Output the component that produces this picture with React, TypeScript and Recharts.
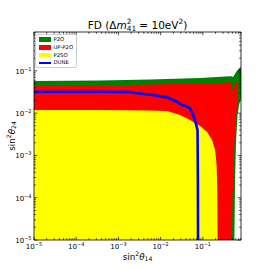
import React from 'react';
import { ComposedChart, Area, Line, XAxis, YAxis, Legend, Label } from 'recharts';

const X_MIN = 1e-5;
const X_MAX = 0.8;
const Y_MIN = 1e-5;
const Y_MAX = 0.83;

const majorTicks = [1e-5, 1e-4, 1e-3, 1e-2, 1e-1];

// P2O excluded region (band between lower and upper edge)
const p2oX = [1e-5, 3.66e-4, 5.61e-3, 0.0859, 0.336, 0.466, 0.52, 0.557, 0.579, 0.612, 0.664, 0.721, 0.8];
const p2oLow = [1e-5, 1e-5, 1e-5, 1e-5, 1e-5, 1e-5, 1e-5, 1e-5, 2.62e-4, 2.31e-3, 9.02e-3, 0.0155, 0.0228];
const p2oHigh = [0.0574, 0.059, 0.0623, 0.0676, 0.0733, 0.0741, 0.0713, 0.0796, 0.086, 0.0938, 0.104, 0.116, 0.123];

// UP-P2O
const upX = [1e-5, 3.66e-4, 5.61e-3, 0.0859, 0.336, 0.466, 0.484, 0.5, 0.52, 0.535, 0.548, 0.579, 0.63, 0.664, 0.682];
const upLow = [1e-5, 1e-5, 1e-5, 1e-5, 1e-5, 1e-5, 1e-5, 8.8e-5, 2.62e-4, 7.78e-4, 1.34e-3, 3.98e-3, 0.0118, 0.0268, 0.0488];
const upHigh = [0.0438, 0.0449, 0.0475, 0.0501, 0.0523, 0.0528, 0.0461, 0.0372, 0.0264, 0.0315, 0.0392, 0.0515, 0.0544, 0.0528, 0.0488];

// P2SO
const p2soX = [1e-5, 3.66e-4, 5.61e-3, 0.0142, 0.0288, 0.0498, 0.0859, 0.126, 0.165, 0.195, 0.211, 0.219, 0.222, 0.223];
const p2soHigh = [0.0118, 0.0118, 0.0116, 0.0112, 0.00902, 0.00687, 0.00495, 0.00357, 0.00231, 0.00134, 5.93e-4, 2.0e-4, 3.9e-5, 1e-5];

// DUNE contour
const duneX = [1e-5, 3.66e-4, 1.88e-3, 2.47e-3, 6.61e-3, 0.0142, 0.0245, 0.0321, 0.04, 0.0498, 0.0586, 0.069, 0.0748, 0.0762, 0.0769];
const duneY = [0.0321, 0.0321, 0.0319, 0.0299, 0.0268, 0.0236, 0.0186, 0.0155, 0.0147, 0.013, 0.00902, 0.00552, 0.00398, 2.62e-4, 1e-5];

const seriesNames = ['P2O', 'UP-P2O', 'P2SO', 'DUNE'];
const seriesColors = ['#008000', '#ff0000', '#ffff00', '#0000ff'];

const FONT = 'DejaVu Sans, sans-serif';

const band = (xs: number[], lo: number[], hi: number[]) => xs.map((x, i) => ({ x, band: [lo[i], hi[i]] }));
const p2oData = band(p2oX, p2oLow, p2oHigh);
const upData = band(upX, upLow, upHigh);
const p2soData = band(p2soX, p2soX.map(() => Y_MIN), p2soHigh);
const duneData = duneX.map((x, i) => ({ x, y: duneY[i] }));

const withMinor = (max: number) =>
  [...majorTicks, ...majorTicks.flatMap((t) => [2, 3, 4, 5, 6, 7, 8, 9].map((k) => +(k * t).toPrecision(3)))]
    .filter((v) => v <= max)
    .sort((a, b) => a - b);
const xTicks = withMinor(X_MAX);
const yTicks = withMinor(Y_MAX);

const isMajor = (v: number) => Math.abs(Math.log10(v) - Math.round(Math.log10(v))) < 1e-6;

const PowLabel = ({ v, x, y, anchor }: any) => (
  <text x={x} y={y} textAnchor={anchor} fontFamily={FONT} fontSize={7} fill="#000">
    <tspan>10</tspan>
    <tspan fontSize={5} dy={-3.2}>{'\u2212' + Math.abs(Math.round(Math.log10(v)))}</tspan>
  </text>
);

const BottomTick = (props: any) => {
  const { x, y, payload } = props;
  const major = isMajor(payload.value);
  return (
    <g>
      <line x1={x} x2={x} y1={y} y2={y - (major ? 3.2 : 1.8)} stroke="#000" strokeWidth={0.7} />
      {major && <PowLabel v={payload.value} x={x} y={y + 9} anchor="middle" />}
    </g>
  );
};

const TopTick = (props: any) => {
  const { x, y, payload } = props;
  const major = isMajor(payload.value);
  return <line x1={x} x2={x} y1={y} y2={y + (major ? 3.2 : 1.8)} stroke="#000" strokeWidth={0.7} />;
};

const LeftTick = (props: any) => {
  const { x, y, payload } = props;
  const major = isMajor(payload.value);
  return (
    <g>
      <line x1={x} x2={x + (major ? 3.2 : 1.8)} y1={y} y2={y} stroke="#000" strokeWidth={0.7} />
      {major && <PowLabel v={payload.value} x={x - 2.5} y={y + 3} anchor="end" />}
    </g>
  );
};

const RightTick = (props: any) => {
  const { x, y, payload } = props;
  const major = isMajor(payload.value);
  return <line x1={x} x2={x - (major ? 3.2 : 1.8)} y1={y} y2={y} stroke="#000" strokeWidth={0.7} />;
};

const renderTitle = (props: any) => {
  const vb = props.viewBox || { x: 34, y: 31, width: 207, height: 1 };
  return (
    <text x={vb.x + vb.width / 2} y={vb.y + vb.height - 3.5} textAnchor="middle" fontFamily={FONT} fontSize={10.5} fill="#000">
      <tspan>FD (Δ</tspan>
      <tspan fontStyle="italic">m</tspan>
      <tspan fontSize={7.3} dy={-4.2}>2</tspan>
      <tspan fontSize={7.3} dx={-4.6} dy={6.6}>41</tspan>
      <tspan dy={-2.4}> = 10eV</tspan>
      <tspan fontSize={7.3} dy={-4.2}>2</tspan>
      <tspan dy={4.2}>)</tspan>
    </text>
  );
};

const renderXLabel = (props: any) => {
  const vb = props.viewBox || { x: 34, y: 240, width: 207, height: 30 };
  return (
    <text x={vb.x + vb.width / 2} y={vb.y + 19.5} textAnchor="middle" fontFamily={FONT} fontSize={8.75} fill="#000">
      <tspan>sin</tspan>
      <tspan fontSize={6.1} dy={-3.4}>2</tspan>
      <tspan fontStyle="italic" dy={3.4}>θ</tspan>
      <tspan fontSize={6.1} dy={1.8}>14</tspan>
    </text>
  );
};

const renderYLabel = (props: any) => {
  const vb = props.viewBox || { x: 0, y: 32, width: 34, height: 208 };
  const cx = vb.x + 14.5;
  const cy = vb.y + vb.height / 2;
  return (
    <text x={cx} y={cy} transform={`rotate(-90 ${cx} ${cy})`} textAnchor="middle" fontFamily={FONT} fontSize={8.75} fill="#000">
      <tspan>sin</tspan>
      <tspan fontSize={6.1} dy={-3.4}>2</tspan>
      <tspan fontStyle="italic" dy={3.4}>θ</tspan>
      <tspan fontSize={6.1} dy={1.8}>24</tspan>
    </text>
  );
};

const LegendBox = () => (
  <div
    style={{
      position: 'relative',
      width: 42,
      height: 34,
      boxSizing: 'border-box',
      border: '0.8px solid #cccccc',
      borderRadius: 2,
      background: 'rgba(255,255,255,0.8)',
      fontFamily: FONT,
      fontSize: 5.3,
      color: '#000',
    }}
  >
    {seriesNames.map((name, i) => (
      <div key={name} style={{ position: 'absolute', left: 2.5, top: 2 + i * 7.8, height: 5, display: 'flex', alignItems: 'center' }}>
        <div style={{ width: 12.7, height: i === 3 ? 2.4 : 4.6, background: seriesColors[i] }} />
        <span style={{ marginLeft: 2.3, lineHeight: '5px', whiteSpace: 'nowrap' }}>{name}</span>
      </div>
    ))}
  </div>
);

const axisLine = { stroke: '#000', strokeWidth: 0.8 };

export default function App() {
  return (
    <div style={{ position: 'absolute', left: 0, top: 0, width: 270, height: 270, background: '#fff' }}>
      <ComposedChart width={270} height={270} margin={{ top: 31, right: 28, bottom: 0, left: 0 }}>
        <Area data={p2oData} dataKey="band" name={seriesNames[0]} xAxisId="bottom" yAxisId="left" type="linear"
          fill={seriesColors[0]} fillOpacity={1} stroke="none" isAnimationActive={false} />
        <Area data={upData} dataKey="band" name={seriesNames[1]} xAxisId="bottom" yAxisId="left" type="linear"
          fill={seriesColors[1]} fillOpacity={1} stroke="none" isAnimationActive={false} />
        <Area data={p2soData} dataKey="band" name={seriesNames[2]} xAxisId="bottom" yAxisId="left" type="linear"
          fill={seriesColors[2]} fillOpacity={1} stroke="none" isAnimationActive={false} />
        <Line data={duneData} dataKey="y" name={seriesNames[3]} xAxisId="bottom" yAxisId="left" type="linear"
          stroke={seriesColors[3]} strokeWidth={2.6} dot={false} isAnimationActive={false} />

        <XAxis xAxisId="bottom" dataKey="x" type="number" scale="log" domain={[X_MIN, X_MAX]} allowDataOverflow
          ticks={xTicks} interval={0} tickSize={0} tickMargin={0} tickLine={false} tick={<BottomTick />}
          height={30} axisLine={axisLine}>
          <Label content={renderXLabel} />
        </XAxis>
        <XAxis xAxisId="top" orientation="top" dataKey="x" type="number" scale="log" domain={[X_MIN, X_MAX]} allowDataOverflow
          ticks={xTicks} interval={0} tickSize={0} tickMargin={0} tickLine={false} tick={<TopTick />}
          height={1} axisLine={axisLine}>
          <Label content={renderTitle} />
        </XAxis>
        <YAxis yAxisId="left" type="number" scale="log" domain={[Y_MIN, Y_MAX]} allowDataOverflow
          ticks={yTicks} interval={0} tickSize={0} tickMargin={0} tickLine={false} tick={<LeftTick />}
          width={34} axisLine={axisLine}>
          <Label content={renderYLabel} />
        </YAxis>
        <YAxis yAxisId="right" orientation="right" type="number" scale="log" domain={[Y_MIN, Y_MAX]} allowDataOverflow
          ticks={yTicks} interval={0} tickSize={0} tickMargin={0} tickLine={false} tick={<RightTick />}
          width={1} axisLine={axisLine} />

        <Legend layout="horizontal" verticalAlign="middle" align="center"
          wrapperStyle={{ left: 35, top: 34, width: 42, height: 34 }} content={() => <LegendBox />} />
      </ComposedChart>
    </div>
  );
}
